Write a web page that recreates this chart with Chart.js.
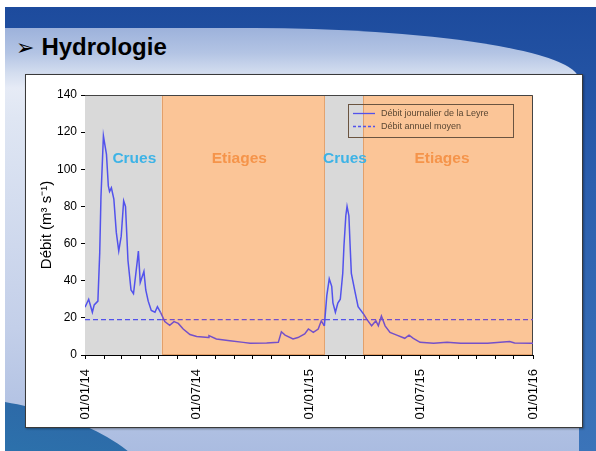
<!DOCTYPE html>
<html lang="fr">
<head>
<meta charset="utf-8">
<title>Hydrologie</title>
<script src="https://cdn.jsdelivr.net/npm/chart.js@4.4.1/dist/chart.umd.min.js"></script>
<style>
  html, body { margin: 0; padding: 0; }
  body { width: 596px; height: 451px; overflow: hidden; background: #fff; position: relative; font-family: "Liberation Sans", Arial, sans-serif; }
  #slide { position: absolute; left: 5px; top: 7px; right: 0; bottom: 0; overflow: hidden;
           background: linear-gradient(180deg, #1d4b9d 0%, #2c5fae 40%, #3b74b9 100%); }
  #light { position: absolute; left: 0; top: 21px; width: 574px; height: 430px;
           border-top-right-radius: 330px 52px;
           background: linear-gradient(180deg, #9db2db 0px, #b3c4e4 25px, #d3ddef 45px, #e6ebf6 60px, #dfe6f3 90px, #c3cfe9 300px, #a9bbe0 100%); }
  #swoosh { position: absolute; left: -150px; top: 396px; width: 300px; height: 120px; border-radius: 50%;
            background: linear-gradient(180deg, #2d6aa8, #2b7bb0); transform: rotate(12deg); }
  #heading { position: absolute; left: 11px; top: 22px; height: 36px; line-height: 36px; color: #000; white-space: nowrap; }
  #heading .arrow { font-family: "DejaVu Sans", sans-serif; font-size: 22px; margin-right: 7px; }
  #heading .txt { font-weight: bold; font-size: 24px; }
  #box { position: absolute; left: 25px; top: 74px; width: 556px; height: 352px; background: #fff;
         border: 1px solid #3a3a3a; box-shadow: 1px 1px 2px rgba(0,0,0,0.35); }
  #chart { position: absolute; left: 0; top: 0; }
</style>
</head>
<body>
<div id="slide">
  <div id="light"></div>
  <div id="swoosh"></div>
  <div id="heading"><span class="arrow">➢</span><span class="txt">Hydrologie</span></div>
</div>
<div id="box"></div>
<canvas id="chart" width="596" height="451"></canvas>
<script>
// Daily discharge of the Leyre (m3/s), sampled at the dates below
const dates = [
  '2014-01-01','2014-01-07','2014-01-13','2014-01-16','2014-01-22','2014-01-25','2014-01-27','2014-01-31',
  '2014-02-02','2014-02-05','2014-02-08','2014-02-10','2014-02-13','2014-02-17','2014-02-21','2014-02-25',
  '2014-03-01','2014-03-05','2014-03-08','2014-03-12','2014-03-17','2014-03-21','2014-03-27','2014-03-29',
  '2014-04-01','2014-04-04','2014-04-07','2014-04-10','2014-04-14','2014-04-19','2014-04-25','2014-04-29',
  '2014-05-04','2014-05-11','2014-05-19','2014-05-26','2014-06-02','2014-06-10','2014-06-21','2014-07-02',
  '2014-07-21','2014-07-22','2014-08-03','2014-08-25','2014-09-16','2014-09-27','2014-10-24','2014-11-12',
  '2014-11-17','2014-11-23','2014-12-06','2014-12-14','2014-12-25','2014-12-31','2015-01-08','2015-01-16',
  '2015-01-21','2015-01-26','2015-01-30','2015-02-03','2015-02-07','2015-02-09','2015-02-13','2015-02-17',
  '2015-02-21','2015-02-25','2015-02-27','2015-03-02','2015-03-04','2015-03-07','2015-03-09','2015-03-11',
  '2015-03-17','2015-03-22','2015-03-31','2015-04-05','2015-04-13','2015-04-20','2015-04-24','2015-04-29',
  '2015-05-05','2015-05-13','2015-05-24','2015-06-06','2015-06-13','2015-06-20','2015-07-01','2015-07-23',
  '2015-08-14','2015-09-05','2015-09-27','2015-10-19','2015-11-24','2015-12-02','2015-12-30','2016-01-01'
];
const flow = [
  25.7, 30, 23, 27, 29, 55, 85, 118,
  114, 108, 91, 88, 90, 84, 66, 56,
  64, 83, 80, 51, 35, 33, 50, 56,
  39, 42, 45, 35, 29, 24, 23, 26,
  23, 18, 16, 18, 17, 14, 11, 10,
  9.4, 10.4, 8.6, 7.7, 6.8, 6.3, 6.4, 6.8,
  12.5, 10.7, 8.6, 9.4, 11.3, 14, 12.2, 14,
  18.4, 15.7, 32, 41, 37, 28, 23, 28,
  30, 44, 59, 75, 80, 75, 59, 44,
  34, 26, 22, 19.3, 15.7, 18.4, 15.7, 21,
  15.7, 12.2, 10.7, 9, 10.7, 9, 6.8, 6.3,
  6.8, 6.3, 6.3, 6.3, 7.3, 6.5, 6.3, 6.3
];
// Mean annual discharge (m3/s)
const meanFlow = 19;

// Hydrological periods
const periodNames  = ['Crues', 'Etiages', 'Crues', 'Etiages'];
const periodStarts = ['2014-01-01', '2014-05-06', '2015-01-27', '2015-03-30'];
const periodEnds   = ['2014-05-06', '2015-01-27', '2015-03-30', '2016-01-01'];

// Axis ticks
const yTicks = [0, 20, 40, 60, 80, 100, 120, 140];
const xTickMonths = [];          // first day of every month, Jan 2014 .. Jan 2016
for (let y = 2014; y <= 2016; y++) {
  for (let m = 1; m <= 12; m++) {
    if (y === 2016 && m > 1) break;
    xTickMonths.push(y + '-' + String(m).padStart(2, '0') + '-01');
  }
}
const seriesLabels = ['Débit journalier de la Leyre', 'Débit annuel moyen'];

const ORIGIN = Date.UTC(2014, 0, 1);
const dayOf = s => { const p = s.split('-').map(Number); return (Date.UTC(p[0], p[1] - 1, p[2]) - ORIGIN) / 86400000; };
const fmtTick = s => { const p = s.split('-'); return p[2] + '/' + p[1] + '/' + p[0].slice(2); };

const periods = periodNames.map((n, i) => ({ name: n, from: dayOf(periodStarts[i]), to: dayOf(periodEnds[i]) }));
const isLowFlow = d => periods.some(p => p.name === 'Etiages' && d >= p.from && d < p.to);

const COL_GREY = '#d9d9d9', COL_ORANGE = '#fbc597', COL_ORANGE_EDGE = '#e3a06a';
const COL_LINE = '#5252ec', COL_LINE_LOW = '#7450c9';
const segColor = ctx => isLowFlow((ctx.p0.parsed.x + ctx.p1.parsed.x) / 2) ? COL_LINE_LOW : COL_LINE;

const dailyPts = dates.map((d, i) => ({ x: dayOf(d), y: flow[i] }));
const breakDays = [periods[0].from].concat(periods.map(p => p.to));
const meanPts = breakDays.map(d => ({ x: d, y: meanFlow }));

const textOffsets = [11, -4, 1, -6];
const periodColours = { 'Crues': '#3db3e6', 'Etiages': '#f5944a' };

const bandsPlugin = {
  id: 'bands',
  beforeDatasetsDraw(chart) {
    const { ctx, chartArea: a, scales: { x, y } } = chart;
    ctx.save();
    periods.forEach(p => {
      const x0 = x.getPixelForValue(p.from), x1 = x.getPixelForValue(p.to);
      ctx.fillStyle = p.name === 'Crues' ? COL_GREY : COL_ORANGE;
      ctx.fillRect(x0, a.top, x1 - x0, a.bottom - a.top);
      if (p.name === 'Etiages') {
        ctx.strokeStyle = COL_ORANGE_EDGE; ctx.lineWidth = 1;
        ctx.strokeRect(Math.round(x0) + 0.5, a.top + 0.5, Math.round(x1 - x0) - 1, a.bottom - a.top - 1);
      }
    });
    // period captions
    ctx.font = 'bold 15.5px "Liberation Sans", Arial, sans-serif';
    ctx.textAlign = 'center'; ctx.textBaseline = 'middle';
    periods.forEach((p, i) => {
      const cx = (x.getPixelForValue(p.from) + x.getPixelForValue(p.to)) / 2 + textOffsets[i];
      ctx.fillStyle = periodColours[p.name];
      ctx.fillText(p.name, cx, y.getPixelForValue(105.5));
    });
    // plot frame
    ctx.strokeStyle = '#444'; ctx.lineWidth = 1;
    ctx.beginPath();
    ctx.moveTo(a.left, a.top + 0.5); ctx.lineTo(a.right - 0.5, a.top + 0.5); ctx.lineTo(a.right - 0.5, a.bottom);
    ctx.stroke();
    ctx.restore();
  },
  afterDatasetsDraw(chart) {
    const { ctx, chartArea: a } = chart;
    const bx = a.right - 185, by = a.top + 9, bw = 165, bh = 33;
    ctx.save();
    ctx.strokeStyle = '#6a5440'; ctx.lineWidth = 1;
    ctx.strokeRect(Math.round(bx) + 0.5, Math.round(by) + 0.5, bw, bh);
    ctx.font = '9px "Liberation Sans", Arial, sans-serif';
    ctx.textAlign = 'left'; ctx.textBaseline = 'middle';
    seriesLabels.forEach((t, i) => {
      const ly = Math.round(by + 9 + i * 13) + 0.5;
      ctx.strokeStyle = COL_LINE; ctx.lineWidth = 1.3;
      ctx.setLineDash(i === 1 ? [3, 2] : []);
      ctx.beginPath(); ctx.moveTo(bx + 5, ly); ctx.lineTo(bx + 27, ly); ctx.stroke();
      ctx.setLineDash([]);
      ctx.fillStyle = '#5a4733';
      ctx.fillText(t, bx + 33, ly);
    });
    ctx.restore();
  }
};

new Chart(document.getElementById('chart'), {
  type: 'line',
  data: {
    datasets: [
      { label: seriesLabels[0], data: dailyPts, borderWidth: 1.5, pointRadius: 0, tension: 0,
        borderColor: COL_LINE, segment: { borderColor: segColor } },
      { label: seriesLabels[1], data: meanPts, borderWidth: 1.3, pointRadius: 0, borderDash: [5, 3],
        borderColor: COL_LINE, segment: { borderColor: segColor } }
    ]
  },
  options: {
    responsive: false,
    animation: false,
    events: [],
    layout: { padding: { left: 30, right: 63, top: 95, bottom: 24 } },
    plugins: { legend: { display: false }, tooltip: { enabled: false } },
    scales: {
      x: {
        type: 'linear', min: 0, max: dayOf('2016-01-01'),
        afterBuildTicks: s => { s.ticks = xTickMonths.map(d => ({ value: dayOf(d) })); },
        afterFit: s => { s.height = 72; },
        border: { color: '#000', width: 1 },
        grid: { drawOnChartArea: false, drawTicks: true, tickLength: 4, color: '#000' },
        ticks: {
          autoSkip: false, minRotation: 90, maxRotation: 90, padding: 10,
          color: '#000', font: { family: '"Liberation Sans", Arial, sans-serif', size: 13 },
          callback: (v, i) => { const s = xTickMonths[i]; const m = s.slice(5, 7); return (m === '01' || m === '07') ? fmtTick(s) : ''; }
        }
      },
      y: {
        min: 0, max: 140,
        afterBuildTicks: s => { s.ticks = yTicks.map(v => ({ value: v })); },
        afterFit: s => { s.width = 55; },
        border: { color: '#000', width: 1 },
        grid: { drawOnChartArea: false, drawTicks: true, tickLength: 4, color: '#000' },
        ticks: { padding: 4, color: '#000', font: { family: '"Liberation Sans", Arial, sans-serif', size: 12 } },
        title: { display: true, text: 'Débit (m³ s⁻¹)', color: '#000', padding: { top: 8, bottom: 2 },
                 font: { family: '"Liberation Sans", Arial, sans-serif', size: 15 } }
      }
    }
  },
  plugins: [bandsPlugin]
});
</script>
</body>
</html>
